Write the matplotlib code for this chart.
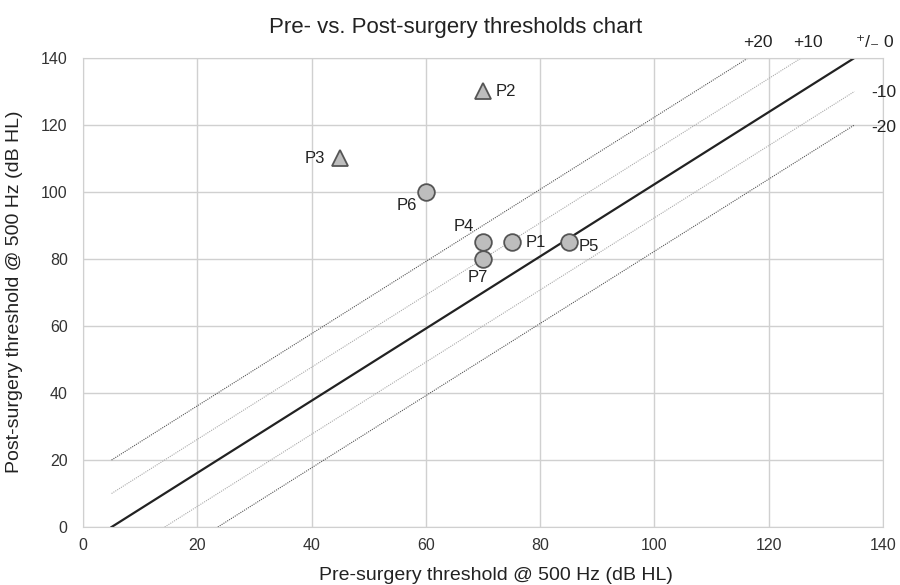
import matplotlib
matplotlib.use('Agg')
import matplotlib.pyplot as plt

plt.rcParams['font.family'] = ['Liberation Sans', 'DejaVu Sans']

# patients: pre-surgery (x) vs post-surgery (y) thresholds @ 500 Hz
circle_names = ['P1', 'P4', 'P5', 'P6', 'P7']
circle_pre = [75, 70, 85, 60, 70]
circle_post = [85, 85, 85, 100, 80]
tri_names = ['P2', 'P3']
tri_pre = [70, 45]
tri_post = [130, 110]

# reference lines (start/end points)
ref_labels = ['+20', '+10', '\u207a/\u208b 0', '-10', '-20']
ref_x0 = [5, 5, 5, 14.3, 23.6]
ref_y0 = [20, 10, 0, 0, 0]
ref_x1 = [116.4, 125.7, 135, 135, 135]
ref_y1 = [140, 140, 140, 130, 120]

fig = plt.figure(figsize=(9, 5.85), dpi=100)
ax = fig.add_axes([0.0922, 0.0991, 0.8889, 0.8018])

styles = [
    dict(color='#555555', lw=0.8, ls=(0, (1, 1))),
    dict(color='#aaaaaa', lw=0.8, ls=(0, (1, 1))),
    dict(color='#222222', lw=1.6, ls='-'),
    dict(color='#aaaaaa', lw=0.8, ls=(0, (1, 1))),
    dict(color='#555555', lw=0.8, ls=(0, (1, 1))),
]
for i in range(len(ref_labels)):
    ax.plot([ref_x0[i], ref_x1[i]], [ref_y0[i], ref_y1[i]], zorder=2, **styles[i])

ax.plot(circle_pre, circle_post, 'o', ms=12, mfc='#bdbdbd', mec='#555555', mew=1.3, zorder=4)
ax.plot(tri_pre, tri_post, '^', ms=11, mfc='#bdbdbd', mec='#555555', mew=1.3, zorder=4)

# point labels: offset in points, alignment
offsets = {'P1': (10, 0, 'left', 'center'), 'P4': (-14, 11.5, 'center', 'center'),
           'P5': (7, -3, 'left', 'center'), 'P6': (-14, -10, 'center', 'center'),
           'P7': (-3.5, -13.5, 'center', 'center'), 'P2': (9, 0, 'left', 'center'),
           'P3': (-11, 0, 'right', 'center')}
for n, x, y in zip(circle_names + tri_names, circle_pre + tri_pre, circle_post + tri_post):
    dx, dy, ha, va = offsets[n]
    ax.annotate(n, (x, y), xytext=(dx, dy), textcoords='offset points',
                ha=ha, va=va, fontsize=12, color='#222222')

# reference line labels
lab_x = [118.1, 126.9, 138.6, 140.2, 140.2]
lab_y = [144.5, 144.5, 144.5, 129.6, 119.1]
for i in range(len(ref_labels)):
    ax.text(lab_x[i], lab_y[i], ref_labels[i], ha='center', va='center',
            fontsize=12.5, color='#222222', clip_on=False)

ax.set_xlim(0, 140)
ax.set_ylim(0, 140)
ax.set_xticks(range(0, 141, 20))
ax.set_yticks(range(0, 141, 20))
ax.grid(True, color='#d0d0d0', lw=1)
ax.set_axisbelow(True)
for s in ax.spines.values():
    s.set_color('#d0d0d0')
ax.tick_params(length=0, labelsize=11.5, colors='#333333')
ax.tick_params(axis='y', pad=11)
ax.tick_params(axis='x', pad=8)

fig.text(456 / 900, 1 - 27 / 585, 'Pre- vs. Post-surgery thresholds chart',
         ha='center', va='center', fontsize=16, color='#222222')
fig.text(496 / 900, 1 - 575 / 585, 'Pre-surgery threshold @ 500 Hz (dB HL)',
         ha='center', va='center', fontsize=14, color='#222222')
fig.text(15 / 900, 1 - 292 / 585, 'Post-surgery threshold @ 500 Hz (dB HL)',
         ha='center', va='center', rotation=90, fontsize=14, color='#222222')

fig.savefig('out.png', dpi=100)
